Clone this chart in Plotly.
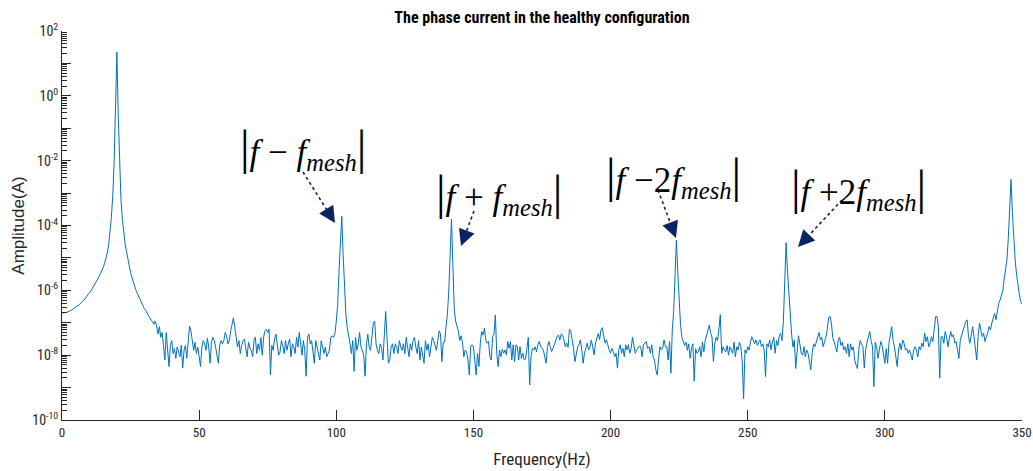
import numpy as np
import plotly.graph_objects as go

# ---------------- data ----------------
# spectrum sampled every 0.5 Hz from 0 to 350 Hz; values are log10(amplitude in A)
freq_step = 0.5
freq = np.arange(0, 350 + freq_step / 2, freq_step)

log_amp = [
    # 0 - 9.5 Hz
    -6.70, -6.70, -6.69, -6.68, -6.67, -6.64, -6.63, -6.61, -6.57, -6.56, -6.52, -6.48, -6.46, -6.41, -6.38, -6.34, -6.30, -6.25, -6.20, -6.14,
    # 10 - 19.5
    -6.08, -6.02, -5.95, -5.88, -5.81, -5.74, -5.66, -5.58, -5.48, -5.40, -5.30, -5.18, -5.03, -4.85, -4.60, -4.25, -3.75, -3.10, -2.05, -0.40,
    # 20 - 29.5
    1.35, -0.60, -2.30, -3.20, -3.80, -4.25, -4.55, -4.80, -5.05, -5.25, -5.45, -5.60, -5.75, -5.88, -6.00, -6.10, -6.20, -6.30, -6.40, -6.48,
    # 30 - 39.5
    -6.56, -6.62, -6.70, -6.78, -6.85, -6.92, -6.97, -7.05, -6.95, -7.10, -7.35, -7.12, -7.45, -7.30, -7.70, -8.15, -7.30, -7.80, -8.35, -7.70,
    # 40 - 49.5
    -7.55, -7.95, -7.80, -8.10, -7.75, -7.90, -8.05, -7.70, -8.40, -7.85, -7.70, -8.10, -7.50, -7.10, -7.25, -7.50, -7.85, -7.60, -7.95, -7.75,
    # 50 - 59.5
    -8.15, -8.35, -7.75, -7.55, -7.65, -7.85, -7.48, -7.75, -8.25, -7.60, -7.45, -7.55, -7.75, -7.95, -8.25, -7.70, -7.55, -7.65, -7.55, -7.30,
    # 60 - 69.5
    -7.40, -7.65, -7.55, -7.25, -7.05, -6.85, -7.15, -7.45, -7.75, -7.55, -7.95, -7.70, -7.55, -7.50, -7.80, -8.05, -7.60, -7.78, -7.85, -8.05,
    # 70 - 79.5
    -7.55, -7.45, -7.95, -7.65, -7.85, -7.45, -8.00, -7.45, -7.25, -7.20, -7.30, -7.20, -8.60, -7.70, -7.85, -7.50, -7.35, -7.65, -8.00, -7.90,
    # 80 - 89.5
    -7.55, -7.70, -7.95, -7.55, -7.85, -7.65, -7.50, -8.05, -7.65, -7.75, -7.95, -7.45, -7.75, -7.30, -7.70, -8.00, -7.55, -7.85, -8.65, -7.45,
    # 90 - 99.5
    -7.35, -7.65, -7.55, -7.85, -8.25, -7.55, -7.75, -7.85, -8.15, -7.55, -7.75, -7.95, -7.75, -8.05, -7.95, -7.85, -7.45, -7.40, -7.45, -7.35,
    # 100 - 109.5
    -6.95, -6.45, -5.40, -4.70, -3.72, -4.90, -5.95, -6.75, -7.15, -7.35, -7.65, -7.95, -7.55, -8.50, -7.45, -7.85, -7.65, -7.30, -7.75, -7.85,
    # 110 - 119.5
    -8.00, -8.65, -7.65, -7.35, -7.75, -7.85, -7.45, -7.00, -6.95, -7.65, -7.85, -7.95, -7.65, -7.75, -8.15, -7.55, -6.65, -7.45, -8.25, -8.15,
    # 120 - 129.5
    -7.75, -7.65, -7.95, -7.65, -7.75, -7.95, -7.55, -7.75, -7.85, -7.65, -7.95, -7.45, -7.75, -8.05, -7.65, -7.85, -7.55, -7.45, -7.75, -7.95,
    # 130 - 139.5
    -7.55, -8.15, -7.75, -7.95, -8.25, -7.55, -7.85, -7.65, -8.05, -7.75, -7.45, -7.55, -7.75, -7.85, -7.55, -7.25, -7.35, -8.20, -7.60, -7.60,
    # 140 - 149.5
    -7.12, -6.75, -6.05, -4.90, -3.81, -5.20, -6.55, -6.95, -7.10, -7.25, -7.55, -7.40, -7.60, -8.05, -7.84, -7.89, -8.15, -8.61, -7.74, -7.68,
    # 150 - 159.5
    -7.74, -8.15, -8.61, -7.94, -8.35, -7.63, -7.27, -7.38, -7.17, -7.53, -7.63, -7.58, -8.05, -8.15, -7.43, -7.35, -6.76, -7.94, -8.35, -7.84,
    # 160 - 169.5
    -8.05, -7.82, -7.94, -7.84, -7.99, -7.58, -7.79, -7.58, -8.15, -7.68, -8.20, -7.68, -7.74, -8.15, -7.74, -8.10, -7.94, -8.15, -8.12, -7.79,
    # 170 - 179.5
    -7.45, -8.92, -8.05, -7.79, -7.84, -7.74, -7.89, -7.68, -7.58, -7.74, -7.79, -7.84, -8.05, -8.25, -7.74, -7.58, -7.74, -7.89, -7.79, -7.68,
    # 180 - 189.5
    -7.53, -7.43, -7.38, -7.53, -7.35, -7.38, -7.53, -7.74, -7.63, -7.76, -7.20, -7.27, -7.53, -7.79, -8.20, -7.99, -7.74, -7.68, -7.53, -7.84,
    # 190 - 199.5
    -8.25, -7.94, -7.79, -7.63, -7.84, -7.74, -7.53, -7.84, -7.99, -7.63, -7.48, -7.33, -7.53, -7.22, -7.15, -7.43, -7.63, -7.53, -7.74, -7.84,
    # 200 - 209.5
    -7.94, -7.79, -7.89, -8.05, -7.94, -8.40, -7.84, -7.68, -7.94, -7.79, -8.05, -7.68, -7.84, -7.68, -7.94, -7.79, -7.45, -7.74, -7.94, -7.84,
    # 210 - 219.5
    -7.79, -7.72, -7.74, -8.05, -7.68, -7.63, -7.58, -7.79, -7.74, -7.94, -7.68, -8.05, -8.15, -8.45, -8.61, -8.15, -7.74, -7.84, -7.79, -7.53,
    # 220 - 229.5
    -7.74, -7.74, -8.15, -7.58, -8.56, -7.22, -6.65, -5.55, -4.45, -5.45, -6.35, -7.05, -7.45, -7.55, -7.70, -7.60, -7.85, -7.65, -8.10, -7.80,
    # 230 - 239.5
    -7.65, -8.80, -7.80, -7.94, -7.90, -7.74, -8.05, -7.60, -7.90, -7.55, -7.40, -7.20, -7.07, -7.33, -7.45, -8.20, -7.65, -7.45, -7.55, -7.20,
    # 240 - 249.5
    -6.75, -7.94, -7.74, -7.84, -7.90, -7.70, -8.00, -7.74, -7.84, -7.94, -7.60, -8.05, -7.74, -7.84, -7.60, -7.74, -8.20, -9.35, -7.84, -7.94,
    # 250 - 259.5
    -7.74, -7.84, -7.60, -7.43, -7.53, -7.65, -7.53, -7.70, -7.60, -7.53, -7.74, -7.65, -7.84, -8.66, -7.65, -7.74, -7.53, -7.84, -7.60, -7.45,
    # 260 - 269.5
    -7.94, -7.55, -7.70, -7.40, -7.33, -7.55, -6.95, -5.60, -4.53, -5.40, -6.10, -6.90, -7.35, -7.75, -7.53, -8.41, -7.84, -7.40, -7.65, -7.94,
    # 270 - 279.5
    -8.00, -7.74, -8.05, -7.84, -7.94, -8.15, -8.45, -7.94, -7.65, -7.74, -7.60, -7.40, -7.30, -7.53, -7.45, -7.74, -7.60, -7.45, -7.20, -6.85,
    # 280 - 289.5
    -6.80, -7.00, -7.45, -7.65, -7.74, -7.90, -7.53, -7.45, -7.70, -7.60, -7.84, -7.74, -7.94, -7.65, -8.05, -7.65, -7.84, -7.74, -8.15, -8.30,
    # 290 - 299.5
    -8.41, -7.84, -7.55, -7.65, -7.74, -8.40, -7.84, -7.60, -7.43, -7.27, -7.55, -7.74, -8.97, -7.60, -7.74, -8.10, -7.84, -7.58, -7.70, -8.05,
    # 300 - 309.5
    -8.25, -7.80, -8.25, -7.63, -7.43, -7.12, -7.55, -7.74, -8.05, -8.35, -7.84, -7.63, -7.84, -7.53, -7.63, -7.84, -7.80, -7.94, -7.84, -8.05,
    # 310 - 319.5
    -8.15, -7.84, -7.74, -7.84, -8.05, -7.74, -7.84, -7.63, -7.74, -7.32, -7.58, -7.43, -7.74, -7.63, -7.43, -7.58, -7.10, -6.81, -6.81, -7.10,
    # 320 - 329.5
    -8.71, -7.43, -7.43, -7.63, -7.27, -7.43, -7.74, -7.53, -7.27, -7.43, -7.37, -7.63, -7.58, -7.84, -8.10, -7.53, -7.37, -7.22, -7.12, -6.96,
    # 330 - 339.5
    -6.91, -7.43, -7.63, -7.43, -7.12, -7.43, -7.84, -8.15, -7.43, -7.01, -7.22, -7.43, -7.32, -7.58, -7.43, -7.32, -7.12, -7.22, -7.01, -6.81,
    # 340 - 349.5
    -6.71, -6.91, -6.61, -6.40, -6.30, -6.15, -6.00, -5.65, -5.35, -5.06, -4.40, -3.60, -2.58, -3.60, -4.50, -5.06, -5.50, -5.90, -6.10, -6.35,
    # 350
    -6.42,
]
assert len(log_amp) == len(freq), (len(log_amp), len(freq))
amplitude = [10 ** v for v in log_amp]

x_ticks = [0, 50, 100, 150, 200, 250, 300, 350]
y_decades = list(range(-10, 3))
y_labels = ["10<sup>%d</sup>" % d if d % 2 == 0 else "" for d in y_decades]

labels = [
    '|<i>f</i> − <i>f</i><sub><i>mesh</i></sub>|',
    '|<i>f</i> + <i>f</i><sub><i>mesh</i></sub>|',
    '|<i>f</i> −2<i>f</i><sub><i>mesh</i></sub>|',
    '|<i>f</i> +2<i>f</i><sub><i>mesh</i></sub>|',
]

# ---------------- layout geometry ----------------
W, H = 1033, 471
ML, MR, MT, MB = 62, 11, 31, 51
PW, PH = W - ML - MR, H - MT - MB
NAVY = "#0b2360"
AXC = "#262626"
NARROW = "Roboto Condensed, Liberation Sans, Arial, sans-serif"
SANS = "Liberation Sans, Arial, sans-serif"
SERIF = "Liberation Serif, Times New Roman, serif"


def paper(px, py):
    return (px - ML) / PW, (H - MB - py) / PH


label_pos = [(303, 148), (499, 193), (673, 176), (858, 188)]
arrows = [((303, 172), (335, 223)), ((474, 211), (461, 246)),
          ((658, 190), (676, 238)), ((842, 200), (798, 247))]
HEAD = 16

fig = go.Figure()
fig.add_trace(go.Scatter(x=freq, y=amplitude, mode="lines",
                         line=dict(color="#0072BD", width=1),
                         hoverinfo="skip", showlegend=False))

bar = '<span style="font-size:48px">|</span>'
for (px, py), txt in zip(label_pos, labels):
    t = txt.replace("|", bar)
    x, y = paper(px, py)
    fig.add_annotation(x=x, y=y, xref="paper", yref="paper", text=t,
                       showarrow=False, xanchor="center", yanchor="middle",
                       font=dict(family=SERIF, size=35, color="black"))

for (tx, ty), (hx, hy) in arrows:
    dx, dy = hx - tx, hy - ty
    L = (dx * dx + dy * dy) ** 0.5
    ux, uy = dx / L, dy / L
    bx, by = hx - ux * HEAD, hy - uy * HEAD
    x0, y0 = paper(tx, ty)
    x1, y1 = paper(bx, by)
    fig.add_shape(type="line", xref="paper", yref="paper", x0=x0, y0=y0,
                  x1=x1, y1=y1, line=dict(color=NAVY, width=1.6, dash="dot"))
    xa, ya = paper(hx, hy)
    fig.add_annotation(x=xa, y=ya, xref="paper", yref="paper", text="",
                       showarrow=True, arrowhead=2, arrowsize=3.3, arrowwidth=1,
                       arrowcolor=NAVY, standoff=0,
                       ax=-ux * HEAD * 0.8, ay=-uy * HEAD * 0.8)

minor_vals = [k * 10.0 ** d for d in range(-10, 2) for k in range(2, 10)]

fig.update_layout(
    width=W, height=H,
    margin=dict(l=ML, r=MR, t=MT, b=MB, autoexpand=False),
    paper_bgcolor="white", plot_bgcolor="white",
    showlegend=False,
    title=dict(text="<b>The phase current in the healthy configuration</b>",
               x=0.5, xref="paper", xanchor="center",
               y=1 - 17 / H, yref="container", yanchor="middle",
               font=dict(family=NARROW, size=16, color="black")),
    xaxis=dict(range=[0, 350], tickmode="array", tickvals=x_ticks,
               ticks="inside", ticklen=10, tickwidth=1, tickcolor=AXC,
               showline=True, linecolor=AXC, linewidth=1, mirror=False,
               showgrid=False, zeroline=False,
               tickfont=dict(family=NARROW, size=13, color=AXC),
               automargin=False,
               title=dict(text="Frequency(Hz)",
                          font=dict(family=NARROW, size=17, color=AXC), standoff=14)),
    yaxis=dict(type="log", range=[-10, 2], tickmode="array",
               tickvals=[10.0 ** d for d in y_decades], ticktext=y_labels,
               ticks="inside", ticklen=9, tickwidth=1, tickcolor=AXC,
               showline=True, linecolor=AXC, linewidth=1, mirror=False,
               showgrid=False, zeroline=False,
               tickfont=dict(family=NARROW, size=14, color=AXC),
               automargin=False,
               minor=dict(tickmode="array", tickvals=minor_vals, ticks="inside",
                          ticklen=5, tickwidth=1, tickcolor=AXC, showgrid=False),
               title=dict(text="Amplitude(A)",
                          font=dict(family=SANS, size=17, color=AXC), standoff=3)),
)

fig.write_html("out.html")
